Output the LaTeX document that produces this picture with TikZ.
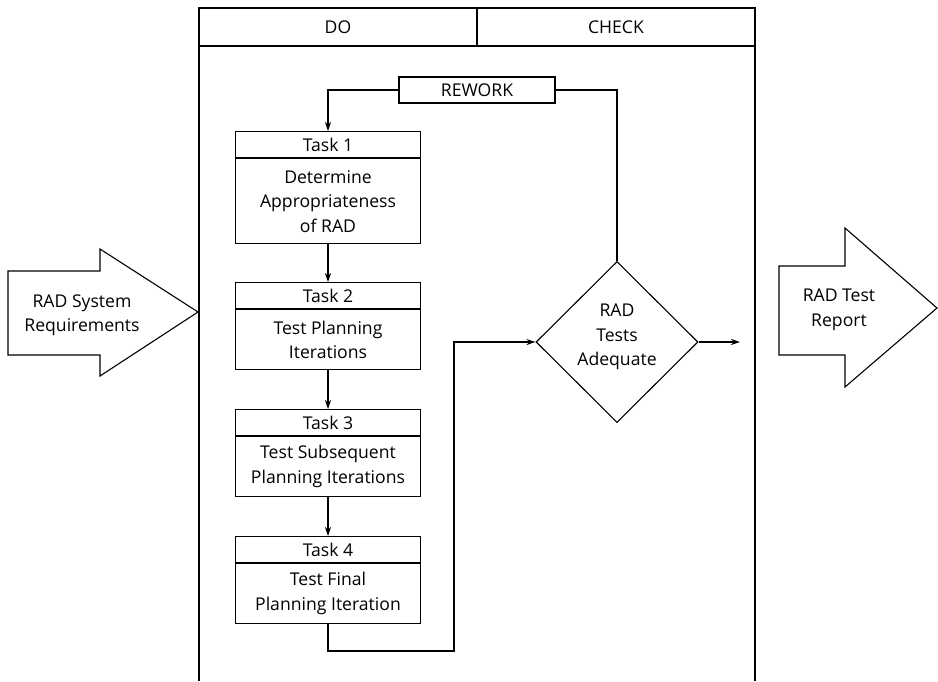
\documentclass[tikz,border=0pt]{standalone}
\usepackage{fontspec}
\setmainfont{Open Sans}
\usetikzlibrary{arrows.meta,shapes.geometric}

\begin{document}
\begin{tikzpicture}[x=1pt, y=-1pt, line width=1.1pt,
		every node/.style={font=\fontsize{17.6}{24.5}\selectfont, align=center, inner sep=0pt},
		taskhead/.style={draw, minimum width=185pt, minimum height=26pt},
		taskbody/.style={draw, minimum width=185pt},
		->/.style={-{Stealth[length=9pt, width=6pt]}}]
	\useasboundingbox (0,0) rectangle (938,681);
	% frame with DO / CHECK columns
	\draw (199,681) -- (199,8) -- (755,8) -- (755,681);
	\draw (199,46) -- (755,46);
	\draw (477,8) -- (477,46);
	\node (do) at (338,27) {DO};
	\node (check) at (616,27) {CHECK};
	% entry and exit arrows
	\draw (8,271) -- (100,271) -- (100,249) -- (198,312) -- (100,376) -- (100,355) -- (8,355) -- cycle;
	\node (req) at (82,315) {RAD System\\Requirements};
	\draw (779,266) -- (845,266) -- (845,228) -- (937,308) -- (845,387) -- (845,355) -- (779,355) -- cycle;
	\node (rep) at (839,310) {RAD Test\\Report};
	% tasks
	\foreach \n/\y/\h/\txt in {1/131/85/{Determine\\Appropriateness\\of RAD},
			2/282/60/{Test Planning\\Iterations},
			3/409/60/{Test Subsequent\\Planning Iterations},
			4/536/60/{Test Final\\Planning Iteration}} {
		\node[taskhead, anchor=north] (h\n) at (328,\y) {Task \n};
		\node[taskbody, anchor=north, minimum height=\h pt] (t\n) at (h\n.south) {\txt};
	}
	\foreach \a/\b in {1/2,2/3,3/4}
		\draw[->] (t\a.south) -- (h\b.north);
	% check step
	\node[draw, diamond, minimum width=162pt, minimum height=161pt] (chk) at (617,342) {};
	\node (chktext) at (617,337) {RAD\\Tests\\Adequate};
	\node[draw, minimum width=156pt, minimum height=26pt] (rework) at (477,90) {REWORK};
	\coordinate (bend) at (454,651);
	\coordinate (out) at (740,342);
	\draw[->] (t4.south) |- (bend) |- (chk.west);
	\draw[->] (chk.east) -- (out);
	\draw (chk.north) |- (rework.east);
	\draw[->] (rework.west) -| (h1.north);
\end{tikzpicture}
\end{document}
